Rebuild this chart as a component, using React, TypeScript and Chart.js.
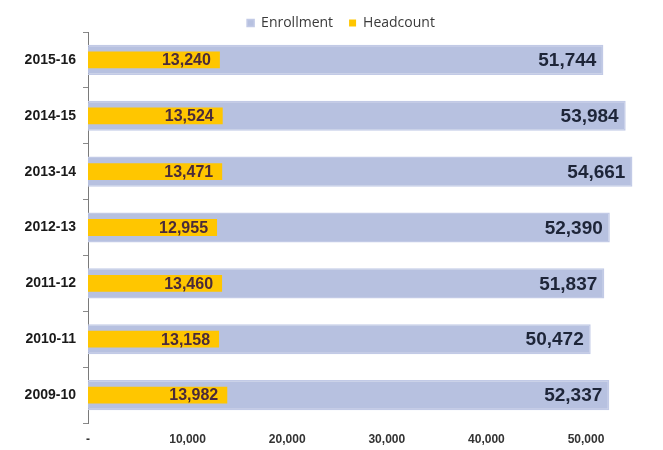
import React, { useEffect, useRef } from "react";
import { Chart, registerables } from "chart.js";

Chart.register(...registerables);

const categories = ["2015-16", "2014-15", "2013-14", "2012-13", "2011-12", "2010-11", "2009-10"];
const enrollment = [51744, 53984, 54661, 52390, 51837, 50472, 52337];
const headcount = [13240, 13524, 13471, 12955, 13460, 13158, 13982];
const seriesNames = ["Enrollment", "Headcount"];
const xTicks = [0, 10000, 20000, 30000, 40000, 50000];

const fmt = (v: number) => v.toLocaleString("en-US");

const labelPlugin = {
  id: "barLabels",
  afterDatasetsDraw(chart: any) {
    const ctx = chart.ctx;
    ctx.save();
    ctx.textAlign = "right";
    ctx.textBaseline = "middle";
    chart.getDatasetMeta(0).data.forEach((bar: any, i: number) => {
      ctx.font = 'bold 19px "Liberation Sans", Arial, sans-serif';
      ctx.fillStyle = "#1e2538";
      ctx.fillText(fmt(enrollment[i]), bar.x - 7, bar.y + 1);
    });
    chart.getDatasetMeta(1).data.forEach((bar: any, i: number) => {
      ctx.font = 'bold 16px "Liberation Sans", Arial, sans-serif';
      ctx.fillStyle = "#4a2b3a";
      ctx.fillText(fmt(headcount[i]), bar.x - 9, bar.y + 1);
    });
    ctx.restore();
  },
};

const legendFitPlugin = {
  id: "legendFit",
  afterInit(chart: any) {
    const lg = chart.legend;
    if (!lg) return;
    const orig = lg.fit.bind(lg);
    lg.fit = () => {
      orig();
      lg.height = 32;
    };
  },
};

export default function App() {
  const ref = useRef<HTMLCanvasElement | null>(null);
  useEffect(() => {
    if (!ref.current) return;
    const chart = new Chart(ref.current, {
      type: "bar",
      data: {
        labels: categories,
        datasets: [
          {
            label: seriesNames[0],
            data: enrollment,
            backgroundColor: "#b7c1e0",
            borderColor: "#c2cae6",
            borderWidth: 1.5,
            barPercentage: 0.54,
            categoryPercentage: 1,
            grouped: false,
            order: 2,
          } as any,
          {
            label: seriesNames[1],
            data: headcount,
            backgroundColor: "#ffc600",
            borderWidth: 0,
            barPercentage: 0.3,
            categoryPercentage: 1,
            grouped: false,
            order: 1,
          } as any,
        ],
      },
      options: {
        indexAxis: "y",
        responsive: false,
        animation: false,
        layout: { padding: { left: 20, right: 1, top: 0, bottom: 0 } },
        plugins: {
          legend: {
            position: "top",
            labels: {
              boxWidth: 7,
              boxHeight: 7,
              padding: 16,
              color: "#3a3a3a",
              font: { family: '"Open Sans", sans-serif', size: 14 },
              sort: (a: any, b: any) => a.datasetIndex - b.datasetIndex,
            },
          },
          tooltip: { enabled: false },
        },
        scales: {
          x: {
            min: 0,
            max: 57630,
            grid: { display: false, drawTicks: false },
            border: { display: false },
            afterBuildTicks: (s: any) => {
              s.ticks = xTicks.map((v) => ({ value: v }));
            },
            ticks: {
              padding: 9,
              color: "#333",
              font: { family: '"Liberation Sans", Arial, sans-serif', size: 12, weight: "bold" },
              callback: (v: any) => (Number(v) === 0 ? "-" : fmt(Number(v))),
            },
            afterFit: (s: any) => {
              s.height = 27;
            },
          },
          y: {
            grid: {
              display: true,
              drawOnChartArea: false,
              drawTicks: true,
              tickLength: 5,
              color: "#8a8a8a",
              offset: true,
            },
            border: { display: true, color: "#7a7a7a", width: 1 },
            ticks: {
              padding: 7,
              color: "#1a1a1a",
              font: { family: '"Liberation Sans", Arial, sans-serif', size: 14, weight: "bold" },
            },
            afterFit: (s: any) => {
              s.width = 68;
            },
          },
        },
      } as any,
      plugins: [labelPlugin, legendFitPlugin],
    });
    return () => chart.destroy();
  }, []);
  return (
    <div style={{ position: "absolute", left: 0, top: 0, width: 663, height: 450 }}>
      <canvas ref={ref} width={663} height={450} style={{ display: "block" }} />
    </div>
  );
}
